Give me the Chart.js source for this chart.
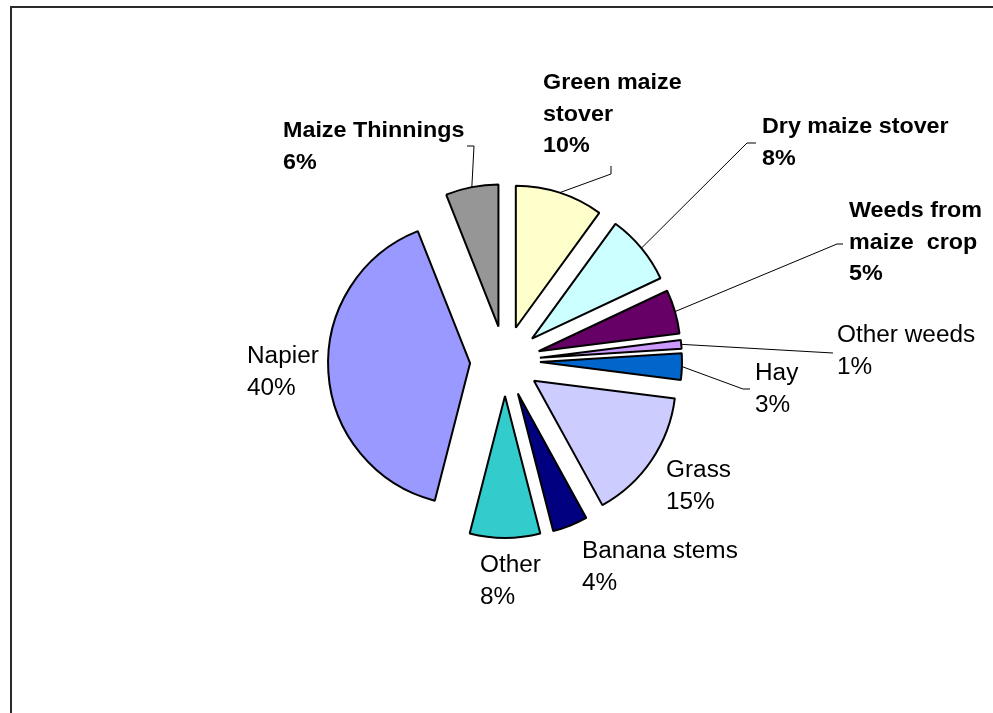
<!DOCTYPE html>
<html>
<head>
<meta charset="utf-8">
<title>Feed sources</title>
<script src="https://cdn.jsdelivr.net/npm/chart.js@4.4.1/dist/chart.umd.min.js"></script>
<style>
    html, body { margin: 0; padding: 0; background: #fff; overflow: hidden; }
    #wrap { position: relative; width: 993px; height: 713px; }
    #frame {
        position: absolute; left: 10px; top: 6px; width: 1100px; height: 900px;
        border-top: 2px solid #2a2a2a; border-left: 2px solid #2a2a2a;
    }
    #feedChart { position: absolute; left: 0; top: 0; }
</style>
</head>
<body>
<div id="wrap">
    <div id="frame"></div>
    <canvas id="feedChart" width="993" height="713"></canvas>
</div>
<script>
// slice data, clockwise from 12 o'clock
const categories = ['Green maize stover', 'Dry maize stover', 'Weeds from maize crop', 'Other weeds', 'Hay',
    'Grass', 'Banana stems', 'Other', 'Napier', 'Maize Thinnings'];
const shares = [10, 8, 5, 1, 3, 15, 4, 8, 40, 6];
// how each category name wraps in its label
const labelText = [['Green maize', 'stover'], ['Dry maize stover'], ['Weeds from', 'maize  crop'], ['Other weeds'], ['Hay'],
    ['Grass'], ['Banana stems'], ['Other'], ['Napier'], ['Maize Thinnings']];
const sliceColors = ['#FFFFCC', '#CCFFFF', '#660066', '#CC99FF', '#0066CC',
    '#CCCCFF', '#000080', '#33CCCC', '#9999FF', '#969696'];

// where the labels sit (first baseline) and the elbow points of their leader lines
const labelLayout = [
    { x: 543, y: 89, bold: true, leader: [[611, 174], [611, 166]] },
    { x: 762, y: 133, bold: true, leader: [[747, 143], [756, 143]] },
    { x: 849, y: 217, bold: true, leader: [[837, 244], [843, 244]] },
    { x: 837, y: 342, bold: false, leader: [[833, 353]] },
    { x: 755, y: 380, bold: false, leader: [[743, 389], [750, 389]] },
    { x: 666, y: 477, bold: false },
    { x: 582, y: 558, bold: false },
    { x: 480, y: 572, bold: false },
    { x: 247, y: 363, bold: false },
    { x: 283, y: 137, bold: true, leader: [[474, 146], [467, 146]] }
];

const PIE_RADIUS = 142;
const EXPLODE = 35;   // every slice pulled out by the same distance
const LINE_H = 31.5;

// push each arc's centre out along its bisector (exploded pie)
const explodePlugin = {
    id: 'explode',
    afterDatasetUpdate(chart, args) {
        chart.getDatasetMeta(args.index).data.forEach(arc => {
            const mid = (arc.startAngle + arc.endAngle) / 2;
            arc.x += Math.cos(mid) * EXPLODE;
            arc.y += Math.sin(mid) * EXPLODE;
        });
    }
};

// draws leader lines and data labels after the slices
const labelPlugin = {
    id: 'pieLabels',
    afterDatasetsDraw(chart) {
        const ctx = chart.ctx;
        const meta = chart.getDatasetMeta(0);
        ctx.save();
        meta.data.forEach((arc, i) => {
            const lay = labelLayout[i];
            const mid = (arc.startAngle + arc.endAngle) / 2;
            const ax = arc.x + Math.cos(mid) * arc.outerRadius;
            const ay = arc.y + Math.sin(mid) * arc.outerRadius;

            if (lay.leader) {
                ctx.beginPath();
                ctx.strokeStyle = '#000';
                ctx.lineWidth = 1;
                ctx.lineJoin = 'miter';
                ctx.moveTo(ax, ay);
                lay.leader.forEach(p => ctx.lineTo(p[0], p[1]));
                ctx.stroke();
            }

            const lines = labelText[i].concat([shares[i] + '%']);
            ctx.fillStyle = '#000';
            ctx.textBaseline = 'alphabetic';
            ctx.textAlign = 'left';
            ctx.font = lay.bold ? 'bold 22px "Liberation Sans", Arial, sans-serif'
                                : '23px "Liberation Sans", Arial, sans-serif';
            lines.forEach((txt, k) => {
                ctx.save();
                ctx.translate(lay.x, lay.y + k * LINE_H);
                ctx.scale(1.06, 1);
                ctx.fillText(txt, 0, 0);
                ctx.restore();
            });
        });
        ctx.restore();
    }
};

const feedChart = new Chart(document.getElementById('feedChart'), {
    type: 'pie',
    data: {
        labels: categories,
        datasets: [{
            data: shares,
            backgroundColor: sliceColors,
            borderColor: '#000',
            borderWidth: 2,
            radius: PIE_RADIUS,
            offset: 0,
            hoverOffset: 0
        }]
    },
    options: {
        responsive: false,
        animation: false,
        events: [],
        layout: { padding: { left: 17, top: 9 } },
        plugins: {
            legend: { display: false },
            tooltip: { enabled: false }
        }
    },
    plugins: [explodePlugin, labelPlugin]
});
</script>
</body>
</html>
